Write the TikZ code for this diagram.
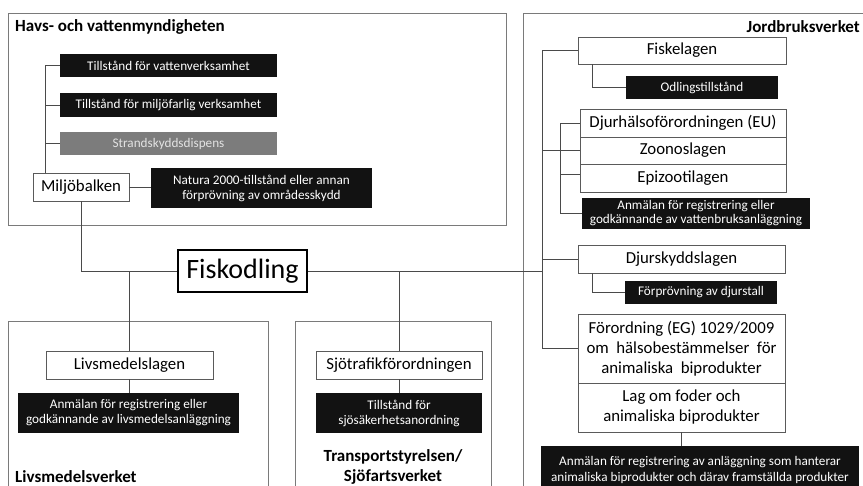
\documentclass[tikz,border=0pt]{standalone}
\usepackage{fontspec}
\setmainfont{Carlito}
\definecolor{linecol}{HTML}{4A4A4A}
\definecolor{boxcol}{HTML}{5A5A5A}
\definecolor{regcol}{HTML}{7A7A7A}
\definecolor{blkfill}{HTML}{121212}
\definecolor{grayfill}{HTML}{7C7C7C}
\definecolor{graytext}{HTML}{E2E2E2}
\tikzset{
  lnk/.style={draw=linecol, line width=0.8pt},
  region/.style={draw=regcol, line width=0.9pt},
  sz/.style 2 args={minimum width=#1pt, minimum height=#2pt},
  blk/.style={fill=blkfill, text=white, inner sep=0pt, align=center, font=\fontsize{13.2}{15}\selectfont},
  gry/.style={fill=grayfill, text=graytext, inner sep=0pt, align=center, font=\fontsize{13.2}{15}\selectfont},
  wht/.style={draw=boxcol, fill=white, line width=0.8pt, inner sep=0pt, align=center, font=\fontsize{16.8}{20}\selectfont},
  ttl/.style={inner sep=0pt, font=\bfseries\fontsize{17}{20}\selectfont}
}
\begin{document}
\begin{tikzpicture}[x=1pt,y=-1pt]
\useasboundingbox (0,0) rectangle (863,486);
\clip (0,0) rectangle (863,486);
\fill[white] (0,0) rectangle (863,486);
% regions
\draw[region] (8,13) rectangle (506,225);
\draw[region] (523,13) rectangle (880,500);
\draw[region] (8,321) rectangle (268,500);
\draw[region] (295,321) rectangle (491,500);
% titles
\node[ttl, anchor=west] (thv) at (15,27) {Havs- och vattenmyndigheten};
\node[ttl, anchor=east] (tjv) at (860,27) {Jordbruksverket};
\node[ttl, anchor=west] (tlv) at (15,477) {Livsmedelsverket};
\node[ttl, align=center] (tts) at (393,467) {Transportstyrelsen/\\Sjöfartsverket};
% Havs
\node[blk, sz={217}{23}] (t1) at (168.5,65.5) {Tillstånd för vattenverksamhet};
\node[blk, sz={217}{24}] (t2) at (168.5,105) {Tillstånd för miljöfarlig verksamhet};
\node[gry, sz={217}{23}] (t3) at (168.5,143.5) {Strandskyddsdispens};
\node[wht, sz={96}{28}] (mb) at (81,187) {Miljöbalken};
\node[blk, sz={221}{40}] (nat) at (261.5,188) {Natura 2000-tillstånd eller annan\\förprövning av områdesskydd};
% centre
\node[draw=black, fill=white, line width=1.3pt, inner sep=0pt, sz={129}{42}, font=\fontsize{28}{32}\selectfont] (fisk) at (242.5,271) {Fiskodling};
% Livsmedel
\node[wht, sz={167}{28}] (ll) at (129.5,365) {Livsmedelslagen};
\node[blk, sz={221}{40}] (lb) at (128.5,413) {Anmälan för registrering eller\\godkännande av livsmedelsanläggning};
% Transport
\node[wht, sz={166}{28}] (sj) at (399,365) {Sjötrafikförordningen};
\node[blk, sz={166}{40}] (sb) at (399,413) {Tillstånd för\\sjösäkerhetsanordning};
% Jordbruk
\node[wht, sz={208}{27}] (fl) at (682,50.5) {Fiskelagen};
\node[blk, sz={152}{23}] (od) at (702,87.5) {Odlingstillstånd};
\node[wht, sz={206}{28}] (dh) at (683,123) {Djurhälsoförordningen (EU)};
\node[wht, sz={206}{27}] (zo) at (683,150.5) {Zoonoslagen};
\node[wht, sz={206}{28}] (ep) at (683,178) {Epizootilagen};
\node[blk, sz={228}{31}, font=\fontsize{13.2}{14}\selectfont] (va) at (696,213.5) {Anmälan för registrering eller\\godkännande av vattenbruksanläggning};
\node[wht, sz={207}{28}] (ds) at (681.5,259) {Djurskyddslagen};
\node[blk, sz={152}{23}] (fp) at (701,292.5) {Förprövning av djurstall};
\node[wht, sz={207}{69}] (ford) at (681.5,348.5) {Förordning (EG) 1029/2009\\om\ \ hälsobestämmelser\ \ för\\animaliska\ \ biprodukter};
\node[wht, sz={207}{49}] (lag) at (681.5,407.5) {Lag om foder och\\animaliska biprodukter};
\node[blk, sz={318}{48}, font=\fontsize{13.2}{16}\selectfont] (big) at (700,470) {Anmälan för registrering av anläggning som hanterar\\animaliska biprodukter och därav framställda produkter};
% connectors
\coordinate (hvx) at (45,0);
\coordinate (jx) at (542,0);
\coordinate (bx) at (560,0);
\coordinate (fx) at (592,0);
\draw[lnk] (t1.west) -| (hvx |- mb.north);
\draw[lnk] (t2.west) -- (t2.west -| hvx);
\draw[lnk] (t3.west) -- (t3.west -| hvx);
\draw[lnk] (mb.east) -- (mb.east -| nat.west);
\draw[lnk] (mb.south) |- (fisk.west);
\draw[lnk] (fisk.east) -- (fisk.east -| jx);
\draw[lnk] (ll.north) -- (ll.north |- fisk.west);
\draw[lnk] (sj.north) -- (sj.north |- fisk.west);
\draw[lnk] (ll.south) -- (ll.south |- lb.north);
\draw[lnk] (sj.south) -- (sb.north);
\draw[lnk] (fl.west) -| (jx |- ford.west) -- (ford.west);
\draw[lnk] (jx |- zo.west) -- (zo.west);
\draw[lnk] (jx |- ds.west) -- (ds.west);
\draw[lnk] (dh.west) -| (bx |- va.west) -- (va.west);
\draw[lnk] ([yshift=4pt]ep.west) -- ([yshift=4pt]ep.west -| bx);
\draw[lnk] (fx |- fl.south) |- (od.west);
\draw[lnk] (fx |- ds.south) |- (fp.west);
\draw[lnk] (lag.south) -- (lag.south |- big.north);
\end{tikzpicture}
\end{document}
